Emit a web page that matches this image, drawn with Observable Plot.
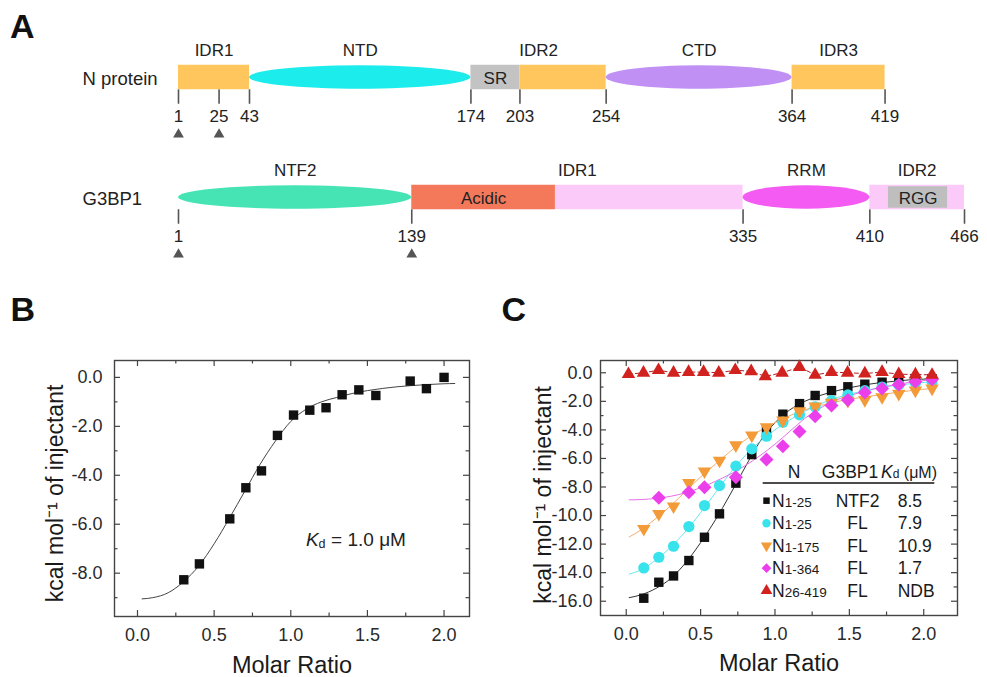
<!DOCTYPE html>
<html><head><meta charset="utf-8">
<script src="https://cdn.jsdelivr.net/npm/d3@7"></script>
<script src="https://cdn.jsdelivr.net/npm/@observablehq/plot@0.6"></script>
<style>
body{margin:0;background:#fff;}
#fig{position:relative;width:987px;height:677px;overflow:hidden;background:#fff;font-family:"Liberation Sans",Arial,Helvetica,sans-serif;}
.panel{position:absolute;}
.letter{position:absolute;font-weight:bold;font-size:34px;line-height:34px;color:#111;z-index:5;}
</style></head><body>
<div id="fig">
  <div id="pa" class="panel" style="left:0;top:0"></div>
  <div id="pb" class="panel" style="left:0;top:280px"></div>
  <div id="pc" class="panel" style="left:500px;top:280px"></div>
  <div class="letter" style="left:10px;top:9px">A</div>
  <div class="letter" style="left:10.5px;top:292px">B</div>
  <div class="letter" style="left:501.5px;top:292px">C</div>
</div>
<script>
const FONT = '"Liberation Sans", Arial, Helvetica, sans-serif';

// ---------- Panel A data ----------
const rowsA = ["N protein", "G3BP1"];
const nDomainName  = ["IDR1", "NTD", "SR", "IDR2", "CTD", "IDR3"];
const nDomainStart = [1, 43, 174, 203, 254, 364];
const nDomainEnd   = [43, 174, 203, 254, 364, 419];
const nDomainShape = ["box", "ellipse", "box", "box", "ellipse", "box"];
const nLabelName   = ["IDR1", "NTD", "IDR2", "CTD", "IDR3"];
const nLabelStart  = [1, 43, 174, 254, 364];
const nLabelEnd    = [43, 174, 254, 364, 419];
const nPositions   = [1, 25, 43, 174, 203, 254, 364, 419];
const nConstructStarts = [1, 25];

const gDomainName  = ["NTF2", "Acidic", "IDR1", "RRM", "IDR2", "RGG"];
const gDomainStart = [1, 139, 224, 335, 410, 421];
const gDomainEnd   = [139, 224, 335, 410, 466, 456];
const gDomainShape = ["ellipse", "box", "box", "ellipse", "box", "inner"];
const gLabelName   = ["NTF2", "IDR1", "RRM", "IDR2"];
const gLabelStart  = [1, 139, 335, 410];
const gLabelEnd    = [139, 335, 410, 466];
const gPositions   = [1, 139, 335, 410, 466];
const gConstructStarts = [1, 139];
const innerLabelNames = ["SR", "Acidic", "RGG"];

const domainFill = {
  "N protein": {IDR1: "#FEC65C", NTD: "#1CECEC", SR: "#C3C3C3", IDR2: "#FEC65C", CTD: "#C190F4", IDR3: "#FEC65C"},
  "G3BP1": {NTF2: "#46E4B5", Acidic: "#F4795A", IDR1: "#FBCAF9", RRM: "#F45BF2", IDR2: "#FBCAF9", RGG: "#BEBEBE"}
};

// ---------- Panel B data ----------
const bX = [0.302, 0.404, 0.602, 0.707, 0.809, 0.913, 1.018, 1.124, 1.230, 1.335, 1.444, 1.555, 1.779, 1.885, 2.000];
const bY = [-8.27, -7.62, -5.78, -4.51, -3.82, -2.37, -1.54, -1.34, -1.24, -0.71, -0.51, -0.74, -0.15, -0.46, 0.00];
const bFitX = [0.03, 0.1, 0.2, 0.3, 0.4, 0.5, 0.6, 0.7, 0.8, 0.9, 1.0, 1.1, 1.2, 1.3, 1.4, 1.5, 1.6, 1.7, 1.8, 1.9, 2.0, 2.07];
const bFitY = [-9.05, -9.0, -8.8, -8.35, -7.7, -6.8, -5.75, -4.65, -3.55, -2.6, -1.8, -1.3, -1.0, -0.82, -0.66, -0.54, -0.45, -0.38, -0.33, -0.29, -0.26, -0.25];
const kdTextB = ["K", "d", "= 1.0 μM"];

// ---------- Panel C data ----------
const cX = [0.118, 0.219, 0.318, 0.421, 0.526, 0.627, 0.737, 0.844, 0.943, 1.053, 1.165, 1.270, 1.380, 1.490, 1.604, 1.720, 1.832, 1.944, 2.056];
const blackY   = [-15.79, -14.67, -14.23, -13.15, -11.52, -9.88, -7.73, -5.73, -3.95, -2.90, -2.16, -1.59, -1.25, -0.98, -0.80, -0.66, -0.50, -0.45, -0.42];
const cyanY    = [-13.67, -12.92, -12.15, -10.77, -9.30, -7.90, -6.54, -5.33, -4.44, -3.46, -2.95, -2.38, -1.95, -1.55, -1.25, -1.00, -0.85, -0.72, -0.62];
const orangeY  = [-10.93, -9.88, -9.35, -7.71, -6.90, -6.15, -5.07, -4.39, -3.81, -3.34, -2.69, -2.35, -2.10, -1.95, -1.90, -1.70, -1.46, -1.24, -1.10];
const magentaX = [0.219, 0.421, 0.526, 0.737, 0.943, 1.053, 1.165, 1.270, 1.380, 1.490, 1.604, 1.720, 1.832, 1.944, 2.056];
const magentaY = [-8.76, -8.37, -8.02, -7.31, -6.08, -5.15, -4.12, -3.05, -2.30, -1.90, -1.38, -1.10, -0.83, -0.62, -0.45];
const redX = [0.015, 0.116, 0.217, 0.318, 0.419, 0.520, 0.622, 0.733, 0.840, 0.935, 1.048, 1.165, 1.270, 1.380, 1.488, 1.604, 1.720, 1.832, 1.944, 2.056];
const redY = [-0.10, 0.00, 0.18, 0.00, 0.05, 0.05, 0.00, 0.18, 0.10, -0.25, 0.00, 0.40, -0.15, 0.05, 0.00, -0.05, 0.05, -0.10, -0.12, -0.15];

const fitX = [0.02, 0.1, 0.2, 0.3, 0.4, 0.5, 0.6, 0.7, 0.8, 0.9, 1.0, 1.1, 1.2, 1.3, 1.4, 1.5, 1.6, 1.7, 1.8, 1.9, 2.07];
const blackFitY   = [-15.75, -15.55, -15.1, -14.4, -13.3, -11.9, -10.3, -8.5, -6.6, -4.8, -3.5, -2.6, -2.0, -1.6, -1.3, -1.05, -0.85, -0.7, -0.6, -0.5, -0.42];
const cyanFitY    = [-14.1, -13.8, -13.1, -12.2, -11.1, -9.8, -8.4, -7.0, -5.8, -4.8, -4.0, -3.3, -2.7, -2.2, -1.8, -1.5, -1.25, -1.05, -0.9, -0.78, -0.62];
const orangeFitY  = [-11.5, -11.0, -10.2, -9.3, -8.3, -7.3, -6.4, -5.5, -4.7, -4.05, -3.5, -3.0, -2.6, -2.3, -2.05, -1.85, -1.7, -1.55, -1.4, -1.27, -1.08];
const magentaFitY = [-8.9, -8.88, -8.8, -8.65, -8.4, -8.05, -7.6, -7.1, -6.5, -5.8, -5.0, -4.1, -3.2, -2.5, -1.95, -1.6, -1.3, -1.05, -0.85, -0.68, -0.47];

const legendNSub  = ["1-25", "1-25", "1-175", "1-364", "26-419"];
const legendG3BP1 = ["NTF2", "FL", "FL", "FL", "FL"];
const legendKd    = ["8.5", "7.9", "10.9", "1.7", "NDB"];
const legendHeader = ["N", "G3BP1", "K", "d", " (μM)"];

const xMajor = [0, 0.5, 1.0, 1.5, 2.0];
const xMinor = [0.25, 0.75, 1.25, 1.75];
const bYMajor = [-8, -6, -4, -2, 0];
const bYMinor = [-9, -7, -5, -3, -1];
const cYMajor = [-16, -14, -12, -10, -8, -6, -4, -2, 0];
const cYMinor = [-15, -13, -11, -9, -7, -5, -3, -1];
const xTitle = "Molar Ratio";
const yTitle = "kcal mol\u207B\u00B9 of injectant";

// ---------- Panel A ----------
(function(){
  const H = 280, mT = 16, mB = 23;
  const bandH = (H - mT - mB) / rowsA.length;
  const mk = (row, names, starts, ends, shapes) => names.map((name, i) => ({row, name, start: starts[i], end: ends[i], shape: shapes ? shapes[i] : null, fill: domainFill[row][name]}));
  const domains = [...mk("N protein", nDomainName, nDomainStart, nDomainEnd, nDomainShape), ...mk("G3BP1", gDomainName, gDomainStart, gDomainEnd, gDomainShape)];
  const labels = [...nLabelName.map((name,i)=>({row:"N protein", name, start:nLabelStart[i], end:nLabelEnd[i]})), ...gLabelName.map((name,i)=>({row:"G3BP1", name, start:gLabelStart[i], end:gLabelEnd[i]}))];
  const positions = [...nPositions.map(p=>({row:"N protein", pos:p})), ...gPositions.map(p=>({row:"G3BP1", pos:p}))];
  const constructs = [...nConstructStarts.map(p=>({row:"N protein", pos:p})), ...gConstructStarts.map(p=>({row:"G3BP1", pos:p}))];
  const inner = domains.filter(d => innerLabelNames.includes(d.name));
  const boxH = 25, ellH = 24, innerH = 22;
  const plot = Plot.plot({
    width: 987, height: H,
    marginLeft: 178, marginRight: 23, marginTop: mT, marginBottom: mB,
    x: {domain: [1, 466], axis: null},
    y: {type: "band", domain: rowsA, padding: 0, axis: null},
    color: {type: "identity"},
    style: {fontFamily: FONT, fontSize: "17px", color: "#222", background: "transparent"},
    marks: [
      Plot.tickX(positions, {x: "pos", y: "row", stroke: "#555", strokeWidth: 1.6, insetTop: bandH/2 + 12, insetBottom: bandH/2 - 27}),
      Plot.barX(domains.filter(d => d.shape === "box"), {x1: "start", x2: "end", y: "row", fill: "fill", insetTop: (bandH-boxH)/2, insetBottom: (bandH-boxH)/2}),
      Plot.barX(domains.filter(d => d.shape === "ellipse"), {x1: "start", x2: "end", y: "row", fill: "fill", rx: 500, ry: 500, insetTop: (bandH-ellH)/2, insetBottom: (bandH-ellH)/2}),
      Plot.barX(domains.filter(d => d.shape === "inner"), {x1: "start", x2: "end", y: "row", fill: "fill", insetTop: (bandH-innerH)/2, insetBottom: (bandH-innerH)/2}),
      Plot.text(labels, {x: d => (d.start + d.end)/2, y: "row", text: "name", dy: -27}),
      Plot.text(inner, {x: d => (d.start + d.end)/2, y: "row", text: "name", dy: 1}),
      Plot.text(positions, {x: "pos", y: "row", text: d => String(d.pos), dy: 39}),
      Plot.dot(constructs, {x: "pos", y: "row", symbol: "triangle", r: 4, fill: "#555", dy: 57}),
      Plot.text(rowsA, {y: d => d, text: d => d, frameAnchor: "left", textAnchor: "start", dx: -96, dy: 2, fontSize: 18.5})
    ]
  });
  document.getElementById("pa").appendChild(plot);
})();

// ---------- shared axis frame helper ----------
function frameMarks(fw, fh, yMajor, yMinor, yPad) {
  const st = {stroke: "#444", strokeWidth: 1.2};
  const maj = 6, min = 3.5;
  return [
    Plot.ruleX(xMajor, {...st, insetTop: fh - maj}),
    Plot.ruleX(xMinor, {...st, insetTop: fh - min}),
    Plot.ruleX(xMajor, {...st, insetBottom: fh - maj}),
    Plot.ruleX(xMinor, {...st, insetBottom: fh - min}),
    Plot.ruleY(yMajor, {...st, insetRight: fw - maj}),
    Plot.ruleY(yMinor, {...st, insetRight: fw - min}),
    Plot.ruleY(yMajor, {...st, insetLeft: fw - maj}),
    Plot.ruleY(yMinor, {...st, insetLeft: fw - min}),
    Plot.frame({stroke: "#444", strokeWidth: 1.4}),
    Plot.axisX({ticks: xMajor, tickSize: 0, tickPadding: 12, tickFormat: d => d.toFixed(1), color: "#2a2a2a", label: null}),
    Plot.axisY({ticks: yMajor, tickSize: 0, tickPadding: yPad, tickFormat: d => d.toFixed(1), color: "#2a2a2a", label: null})
  ];
}

// ---------- Panel B ----------
(function(){
  const W = 500, H = 397, mL = 114, mR = 31, mT = 80, mB = 61;
  const fw = W - mL - mR, fh = H - mT - mB;
  const pts = bX.map((x, i) => ({x, y: bY[i]}));
  const fit = bFitX.map((x, i) => ({x, y: bFitY[i]}));
  const plot = Plot.plot({
    width: W, height: H, marginLeft: mL, marginRight: mR, marginTop: mT, marginBottom: mB,
    x: {domain: [-0.15, 2.166], label: null},
    y: {domain: [-9.77, 0.69], label: null},
    style: {fontFamily: FONT, fontSize: "18px", color: "#222", background: "transparent"},
    marks: [
      ...frameMarks(fw, fh, bYMajor, bYMinor, 12),
      Plot.line(fit, {x: "x", y: "y", stroke: "#444", strokeWidth: 1, curve: "monotone-x"}),
      Plot.dot(pts, {x: "x", y: "y", symbol: "square", r: 5.3, fill: "#111"}),
      Plot.text([kdTextB[0]], {x: 1.10, y: -6.66, text: d => d, fontStyle: "italic", fontSize: 19, textAnchor: "start"}),
      Plot.text([kdTextB[1]], {x: 1.10, y: -6.66, text: d => d, fontSize: 12.5, textAnchor: "start", dx: 12.5, dy: 4}),
      Plot.text([kdTextB[2]], {x: 1.10, y: -6.66, text: d => d, fontSize: 19, textAnchor: "start", dx: 25}),
      Plot.text([xTitle], {frameAnchor: "bottom", lineAnchor: "middle", textAnchor: "middle", dy: 49, fontSize: 23.5, fill: "#1a1a1a"}),
      Plot.text([yTitle], {frameAnchor: "left", lineAnchor: "middle", textAnchor: "middle", dx: -59, dy: 5, rotate: -90, fontSize: 23, fill: "#1a1a1a"})
    ]
  });
  document.getElementById("pb").appendChild(plot);
})();

// ---------- Panel C ----------
(function(){
  const W = 487, H = 397, mL = 100, mR = 30, mT = 80, mB = 62;
  const fw = W - mL - mR, fh = H - mT - mB;
  const ser = (xs, ys) => xs.map((x, i) => ({x, y: ys[i]}));
  const black = ser(cX, blackY), cyan = ser(cX, cyanY), orange = ser(cX, orangeY);
  const magenta = ser(magentaX, magentaY), red = ser(redX, redY);
  const fBlack = ser(fitX, blackFitY), fCyan = ser(fitX, cyanFitY), fOrange = ser(fitX, orangeFitY), fMagenta = ser(fitX, magentaFitY);
  const C = {black: "#111111", cyan: "#38E3EC", orange: "#F39B38", magenta: "#EA3FEA", red: "#D2221F"};
  const lineOpt = {x: "x", y: "y", strokeWidth: 1, curve: "monotone-x"};
  const plot = Plot.plot({
    width: W, height: H, marginLeft: mL, marginRight: mR, marginTop: mT, marginBottom: mB,
    x: {domain: [-0.173, 2.227], label: null},
    y: {domain: [-17.0, 0.86], label: null},
    style: {fontFamily: FONT, fontSize: "18px", color: "#222", background: "transparent"},
    marks: [
      ...frameMarks(fw, fh, cYMajor, cYMinor, 8),
      Plot.line(fBlack, {...lineOpt, stroke: "#333"}),
      Plot.line(fCyan, {...lineOpt, stroke: "#6EE6EE"}),
      Plot.line(fOrange, {...lineOpt, stroke: "#F4AE6A"}),
      Plot.line(fMagenta, {...lineOpt, stroke: "#E670E6"}),
      Plot.line(red, {x: "x", y: "y", stroke: "#B51E1E", strokeWidth: 1, strokeDasharray: "4,3"}),
      Plot.dot(black, {x: "x", y: "y", symbol: "square", r: 5.3, fill: C.black}),
      Plot.dot(cyan, {x: "x", y: "y", symbol: "circle", r: 5.6, fill: C.cyan}),
      Plot.dot(orange, {x: "x", y: "y", symbol: "triangle", r: 5, rotate: 180, fill: C.orange}),
      Plot.dot(magenta, {x: "x", y: "y", symbol: "diamond2", r: 6.3, fill: C.magenta}),
      Plot.dot(red, {x: "x", y: "y", symbol: "triangle", r: 5, fill: C.red}),
      Plot.text([xTitle], {frameAnchor: "bottom", lineAnchor: "middle", textAnchor: "middle", dy: 48, fontSize: 23.5, fill: "#1a1a1a"}),
      Plot.text([yTitle], {frameAnchor: "left", lineAnchor: "middle", textAnchor: "middle", dx: -57, dy: 7, rotate: -90, fontSize: 23, fill: "#1a1a1a"})
    ]
  });
  document.getElementById("pc").appendChild(plot);

  // table-style legend inside the plot frame
  const svg = d3.select(plot.tagName.toLowerCase() === "svg" ? plot : plot.querySelector("svg"));
  const g = svg.append("g").attr("font-family", FONT).attr("font-size", 17.5).attr("fill", "#1a1a1a").attr("text-anchor", "start");
  const hb = 198.3;
  g.append("text").attr("x", 294).attr("y", hb).attr("text-anchor", "middle").text(legendHeader[0]);
  g.append("text").attr("x", 350).attr("y", hb).attr("text-anchor", "middle").text(legendHeader[1]);
  const kd = g.append("text").attr("x", 381).attr("y", hb).attr("text-anchor", "start");
  kd.append("tspan").attr("font-style", "italic").text(legendHeader[2]);
  kd.append("tspan").attr("font-size", 12).text(legendHeader[3]);
  kd.append("tspan").attr("font-size", 16).text(legendHeader[4]);
  g.append("line").attr("x1", 262.7).attr("x2", 434.3).attr("y1", 203).attr("y2", 203).attr("stroke", "#111").attr("stroke-width", 1.6);
  const symTypes = [d3.symbolSquare, d3.symbolCircle, d3.symbolTriangle, d3.symbolDiamond2, d3.symbolTriangle];
  const symSizes = [42, 55, 55, 60, 60];
  const symRot = [0, 0, 180, 0, 0];
  const symFill = [C.black, C.cyan, C.orange, C.magenta, C.red];
  legendNSub.forEach((sub, i) => {
    const bl = 226.7 + i * 22.5;
    g.append("path").attr("d", d3.symbol(symTypes[i], symSizes[i])())
      .attr("transform", `translate(266.5,${bl - 6}) rotate(${symRot[i]})`).attr("fill", symFill[i]);
    const t = g.append("text").attr("x", 272).attr("y", bl).attr("text-anchor", "start");
    t.append("tspan").text("N");
    t.append("tspan").attr("font-size", 13.5).text(sub);
    g.append("text").attr("x", 357.5).attr("y", bl).attr("text-anchor", "middle").text(legendG3BP1[i]);
    g.append("text").attr("x", 397.7).attr("y", bl).attr("text-anchor", "start").text(legendKd[i]);
  });
})();
</script>
</body></html>
